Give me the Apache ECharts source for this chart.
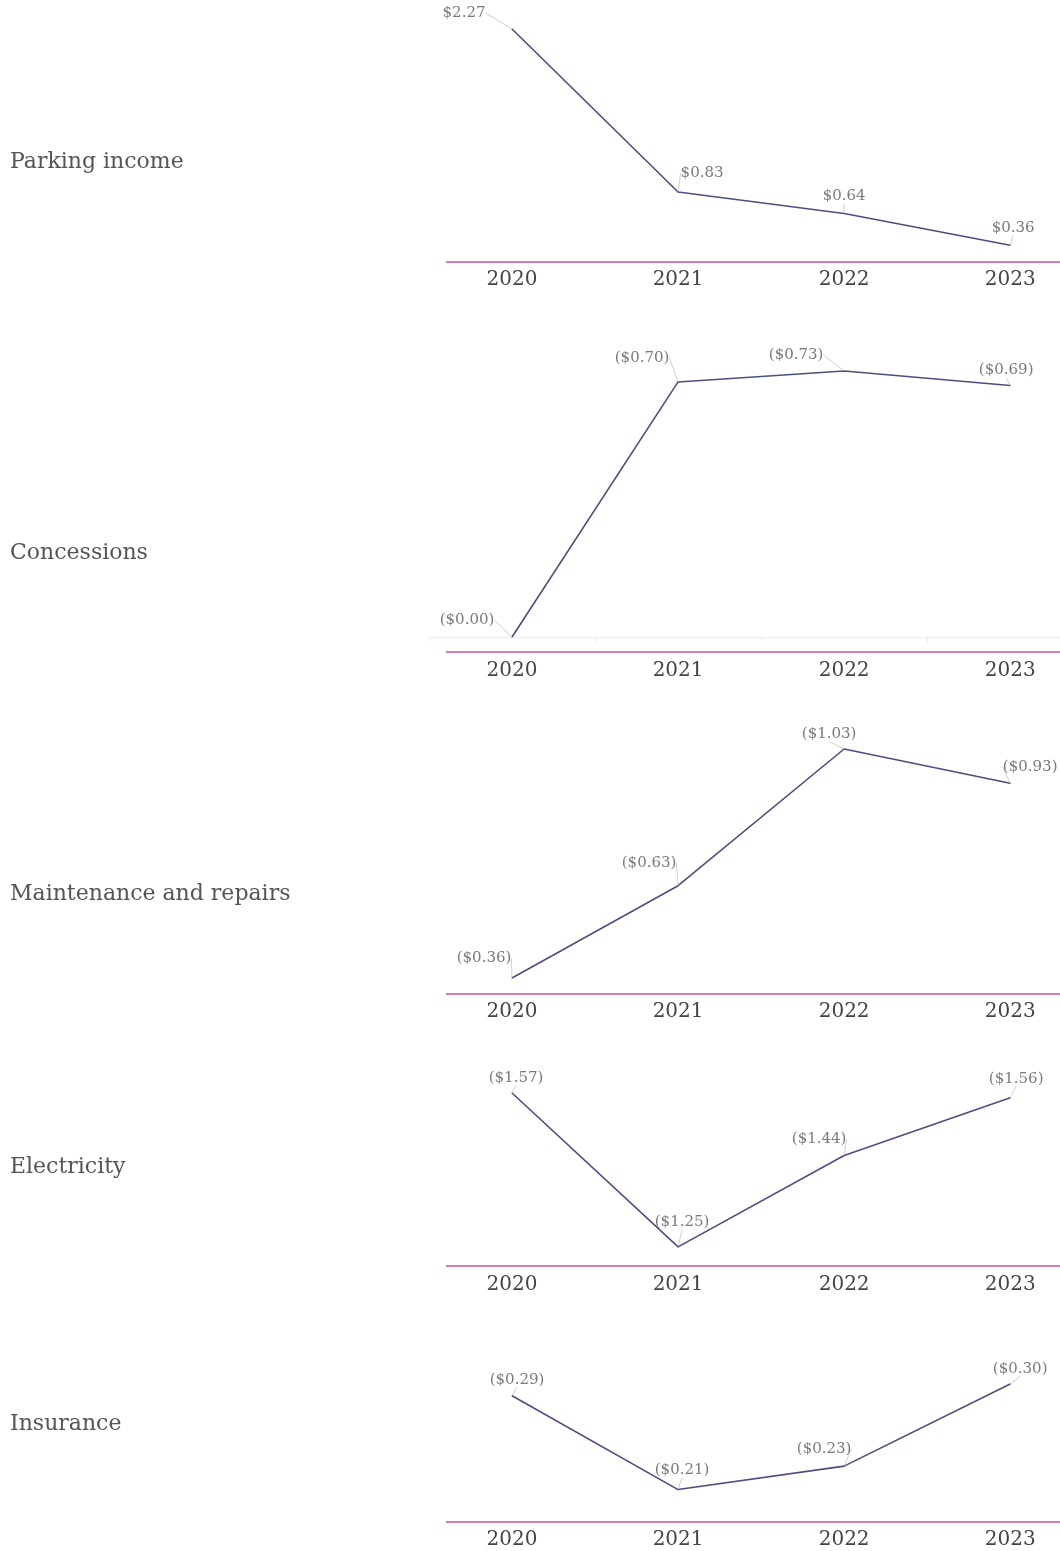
<!DOCTYPE html>
<html><head><meta charset="utf-8">
<script src="https://cdn.jsdelivr.net/npm/echarts@6/dist/echarts.min.js"></script>
<style>html,body{margin:0;padding:0;background:#fff}#c{width:1060px;height:1551px}</style>
</head><body><div id="c"></div>
<script>
const YEARS = ['2020', '2021', '2022', '2023'];
const TITLES = ['Parking income', 'Concessions', 'Maintenance and repairs', 'Electricity', 'Insurance'];
const PARKING = [2.27, 0.83, 0.64, 0.36];
const CONCESSIONS = [0.00, 0.70, 0.73, 0.69];
const MAINTENANCE = [0.36, 0.63, 1.03, 0.93];
const ELECTRICITY = [1.57, 1.25, 1.44, 1.56];
const INSURANCE = [0.29, 0.21, 0.23, 0.30];
const IN_PARENS = [false, true, true, true, true];

// layout (positions / axis ranges), kept apart from data
const LAYOUT = [
  {top: 29,   height: 217, min: 0.353, titleY: 162,  pinkY: 262},
  {top: 371,  height: 266, min: 0,     titleY: 553,  pinkY: 652},
  {top: 749,  height: 229, min: 0.36,  titleY: 894,  pinkY: 994},
  {top: 1093, height: 158, min: 1.2415,titleY: 1167, pinkY: 1266},
  {top: 1384, height: 122, min: 0.196, titleY: 1424, pinkY: 1522}
];
const NUDGE = [
  [[-48,-3],[24,-6],[0,-4],[3,-4]],
  [[-45,-4],[-36,-11],[-48,-3],[-4,-2]],
  [[-28,-7],[-29,-10],[-15,-2],[20,-3]],
  [[4,-2],[4,-12],[-25,-3],[6,-6]],
  [[5,-3],[4,-6],[-20,-4],[10,-2]]
];
const SERIES = [PARKING, CONCESSIONS, MAINTENANCE, ELECTRICITY, INSURANCE];

const FONT = '"DejaVu Serif", "Liberation Serif", serif';
const grids = [], xAxes = [], yAxes = [], series = [], graphics = [];
SERIES.forEach((vals, i) => {
  const L = LAYOUT[i];
  grids.push({left: 429, right: 0, top: L.top, height: L.height, containLabel: false});
  xAxes.push({
    type: 'value', gridIndex: i, min: -0.5, max: 3.3,
    splitLine: {show: false},
    axisLine: {show: i === 1, onZero: false, lineStyle: {color: '#ececec', width: 1}},
    axisTick: {show: i === 1, length: 5, customValues: [-0.5, 0.5, 1.5, 2.5], lineStyle: {color: '#ececec'}},
    axisLabel: {margin: 24, color: '#444', fontSize: 20, fontFamily: FONT,
      customValues: [0, 1, 2, 3], formatter: v => YEARS[Math.round(v)]}
  });
  yAxes.push({
    type: 'value', gridIndex: i, min: L.min, max: Math.max(...vals),
    show: false, splitLine: {show: false}
  });
  series.push({
    type: 'line', xAxisIndex: i, yAxisIndex: i,
    data: vals.map((v, k) => [k, v]),
    symbol: 'circle', symbolSize: 1, showSymbol: true, clip: false,
    itemStyle: {color: '#4b4f7f'},
    lineStyle: {color: '#4b4f7f', width: 1.6},
    label: {
      show: true, position: 'top', distance: 5, color: '#7a7a7a', fontSize: 15, fontFamily: FONT,
      formatter: p => IN_PARENS[i] ? '($' + p.value[1].toFixed(2) + ')' : '$' + p.value[1].toFixed(2)
    },
    labelLine: {show: true, lineStyle: {color: '#cfcfcf', width: 1}},
    labelLayout: p => ({dx: NUDGE[i][p.dataIndex][0], dy: NUDGE[i][p.dataIndex][1]})
  });
  graphics.push({
    type: 'line', shape: {x1: 446, y1: L.pinkY, x2: 1060, y2: L.pinkY},
    style: {stroke: '#cc4fa5', lineWidth: 1.5}, silent: true
  });
  graphics.push({
    type: 'text', x: 10, y: L.titleY,
    style: {text: TITLES[i], fill: '#555', font: '22px ' + FONT, verticalAlign: 'middle', align: 'left'}
  });
});

const chart = echarts.init(document.getElementById('c'), null, {renderer: 'canvas'});
chart.setOption({
  animation: false,
  backgroundColor: '#fff',
  grid: grids, xAxis: xAxes, yAxis: yAxes, series: series, graphic: graphics
});
</script></body></html>
